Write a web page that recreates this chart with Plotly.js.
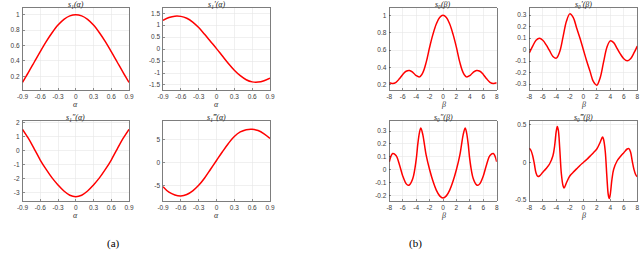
<!DOCTYPE html>
<html>
<head>
<meta charset="utf-8">
<script src="https://cdn.plot.ly/plotly-3.0.1.min.js"></script>
<style>html,body{margin:0;padding:0;background:#fff;}#chart{width:640px;height:261px;}</style>
</head>
<body>
<div id="chart"></div>
<script>
// ---------- data ----------
const alpha = [-0.9,-0.8,-0.7,-0.6,-0.5,-0.4,-0.3,-0.2,-0.1,0,0.1,0.2,0.3,0.4,0.5,0.6,0.7,0.8,0.9];
const s1    = [0.12,0.25,0.385,0.52,0.65,0.765,0.865,0.94,0.985,1.0,0.985,0.94,0.865,0.765,0.65,0.52,0.385,0.25,0.12];
const s1d1  = [1.2,1.32,1.38,1.37,1.29,1.13,0.9,0.62,0.32,0.02,-0.29,-0.6,-0.88,-1.11,-1.28,-1.37,-1.38,-1.32,-1.21];
const s1d2  = [1.5,0.85,0.1,-0.68,-1.35,-1.95,-2.45,-2.88,-3.18,-3.28,-3.18,-2.88,-2.45,-1.95,-1.35,-0.68,0.1,0.85,1.5];
const s1d3  = [-5.3,-6.5,-7.1,-7.3,-7.0,-6.2,-5.0,-3.4,-1.5,0.4,2.3,4.1,5.6,6.6,7.1,7.2,6.9,6.2,5.2];

const beta  = [-8,-7.5,-7,-6.5,-6,-5.5,-5,-4.5,-4,-3.5,-3,-2.5,-2,-1.5,-1,-0.5,0,0.5,1,1.5,2,2.5,3,3.5,4,4.5,5,5.5,6,6.5,7,7.5,8];
const s0    = [0.222,0.214,0.228,0.268,0.318,0.355,0.364,0.343,0.305,0.29,0.34,0.46,0.63,0.78,0.9,0.975,1.0,0.975,0.9,0.78,0.63,0.46,0.34,0.29,0.305,0.343,0.364,0.355,0.318,0.268,0.228,0.214,0.222];
const s0d1  = [-0.03,0.03,0.08,0.098,0.08,0.04,-0.01,-0.06,-0.075,-0.02,0.11,0.245,0.31,0.28,0.19,0.1,0.0,-0.1,-0.19,-0.28,-0.31,-0.245,-0.11,0.02,0.075,0.06,0.01,-0.04,-0.08,-0.098,-0.08,-0.03,0.03];

const beta7 = [-8,-7.5,-7,-6.5,-6,-5.5,-5.2,-5,-4.5,-4,-3.75,-3.5,-3.3,-3,-2.75,-2.5,-2,-1.5,-1,-0.5,0,0.5,1,1.5,2,2.5,2.75,3,3.3,3.5,3.75,4,4.5,5,5.2,5.5,6,6.5,7,7.5,8];
const s0d2  = [0.06,0.125,0.11,0.04,-0.05,-0.11,-0.123,-0.12,-0.07,0.075,0.2,0.29,0.323,0.27,0.19,0.11,0.0,-0.09,-0.16,-0.205,-0.222,-0.205,-0.16,-0.09,0.0,0.11,0.19,0.27,0.323,0.29,0.2,0.075,-0.07,-0.12,-0.123,-0.11,-0.05,0.04,0.11,0.125,0.06];

const beta8 = [-8,-7.75,-7.5,-7.25,-7,-6.75,-6.5,-6,-5.5,-5,-4.5,-4.25,-4,-3.85,-3.7,-3.5,-3.25,-3,-2.85,-2.5,-2,-1.5,-1,-0.5,0,0.5,1,1.5,2,2.5,2.85,3,3.25,3.5,3.7,3.85,4,4.25,4.5,5,5.5,6,6.5,6.75,7,7.25,7.5,7.75,8];
const s0d3  = [0.19,0.16,0.09,-0.02,-0.14,-0.185,-0.18,-0.13,-0.08,-0.02,0.09,0.22,0.42,0.48,0.43,0.2,-0.15,-0.31,-0.34,-0.27,-0.18,-0.13,-0.085,-0.04,0.0,0.04,0.085,0.13,0.18,0.27,0.34,0.31,0.15,-0.2,-0.43,-0.48,-0.42,-0.22,-0.09,0.02,0.08,0.13,0.18,0.185,0.14,0.02,-0.09,-0.16,-0.19];

const alphaTicks = [-0.9,-0.6,-0.3,0,0.3,0.6,0.9];
const alphaTickText = ["-0.9","-0.6","-0.3","0","0.3","0.6","0.9"];
const betaTicks = [-8,-6,-4,-2,0,2,4,6,8];
const betaTickText = ["-8","-6","-4","-2","0","2","4","6","8"];
const yTicks1 = [0.2,0.4,0.6,0.8,1];           const yText1 = ["0.2","0.4","0.6","0.8","1"];
const yTicks2 = [-1.5,-1,-0.5,0,0.5,1,1.5];    const yText2 = ["-1.5","-1","-0.5","0","0.5","1","1.5"];
const yTicks3 = [-3,-2,-1,0,1,2];              const yText3 = ["-3","-2","-1","0","1","2"];
const yTicks4 = [-5,0,5];                      const yText4 = ["-5","0","5"];
const yTicks5 = [0.2,0.4,0.6,0.8,1];           const yText5 = ["0.2","0.4","0.6","0.8","1"];
const yTicks6 = [-0.3,-0.2,-0.1,0,0.1,0.2,0.3];const yText6 = ["-0.3","-0.2","-0.1","0","0.1","0.2","0.3"];
const yTicks7 = [-0.2,-0.1,0,0.1,0.2,0.3];     const yText7 = ["-0.2","-0.1","0","0.1","0.2","0.3"];
const yTicks8 = [-0.5,0,0.5];                  const yText8 = ["-0.5","0","0.5"];

const titles = ["s₁(α)","s₁′(α)","s₁″(α)","s₁‴(α)","s₀(β)","s₀′(β)","s₀″(β)","s₀‴(β)"];
const xLabels = ["α","α","α","α","β","β","β","β"];
const captions = ["(a)","(b)"];

// ---------- layout geometry (pixels) ----------
const W = 640, H = 261;
const cols = [[22.5,129],[163,270],[389.3,496.7],[529.3,637.3]];
const rows = [[8,90],[121,201]];
const place = [[0,0],[1,0],[0,1],[1,1],[2,0],[3,0],[2,1],[3,1]];
const yRanges = [[0.021,1.087],[-1.71,1.72],[-3.59,2.09],[-8.41,8.98],[0.139,1.084],[-0.352,0.361],[-0.245,0.378],[-0.513,0.553]];
const xs = [alpha,alpha,alpha,alpha,beta,beta,beta7,beta8];
const ys = [s1,s1d1,s1d2,s1d3,s0,s0d1,s0d2,s0d3];
const yt = [[yTicks1,yText1],[yTicks2,yText2],[yTicks3,yText3],[yTicks4,yText4],[yTicks5,yText5],[yTicks6,yText6],[yTicks7,yText7],[yTicks8,yText8]];

const tickFont = {family:"Liberation Sans, Arial, sans-serif", size:6.5, color:"#404040"};
const serifItalic = (sz,col)=>({family:"Liberation Serif, Times New Roman, serif", size:sz, color:col, style:"italic"});
const traces = [];
const layout = {
  width: W, height: H, margin:{l:0,r:0,t:0,b:0},
  paper_bgcolor:"#fff", plot_bgcolor:"#fff", showlegend:false,
  annotations: []
};
for (let i=0;i<8;i++){
  const n = i===0 ? "" : String(i+1);
  const [c,r] = place[i];
  const xd = [cols[c][0]/W, cols[c][1]/W];
  const yd = [1-rows[r][1]/H, 1-rows[r][0]/H];
  const isAlpha = i<4;
  traces.push({x: xs[i], y: ys[i], type:"scatter", mode:"lines",
    line:{color:"#ff0000", width:1.5, shape:"spline", smoothing:1},
    xaxis:"x"+n, yaxis:"y"+n, hoverinfo:"skip"});
  const axCommon = {showline:true, mirror:true, linecolor:"#262626", linewidth:0.6,
    showgrid:true, gridcolor:"#e6e6e6", gridwidth:0.6, zeroline:false,
    ticks:"inside", ticklen:2, tickwidth:0.5, tickcolor:"#262626", tickfont:tickFont, fixedrange:true};
  layout["xaxis"+n] = Object.assign({}, axCommon, {
    domain: xd, anchor:"y"+n,
    range: isAlpha ? [-0.9,0.9] : [-8,8],
    tickmode:"array", tickvals: isAlpha ? alphaTicks : betaTicks,
    ticktext: isAlpha ? alphaTickText : betaTickText, ticklabelstandoff: 1
  });
  layout["yaxis"+n] = Object.assign({}, axCommon, {
    domain: yd, anchor:"x"+n, range: yRanges[i],
    tickmode:"array", tickvals: yt[i][0], ticktext: yt[i][1], ticklabelstandoff: 1
  });
  const cx = (xd[0]+xd[1])/2;
  layout.annotations.push({text: titles[i], xref:"paper", yref:"paper", x: cx, y: 1-(rows[r][0]-4)/H,
    xanchor:"center", yanchor:"middle", showarrow:false, font: serifItalic(8,"#222")});
  layout.annotations.push({text: xLabels[i], xref:"paper", yref:"paper", x: cx, y: 1-(rows[r][1]+14)/H,
    xanchor:"center", yanchor:"middle", showarrow:false, font: serifItalic(8,"#333")});
}
layout.annotations.push({text:captions[0], xref:"paper", yref:"paper", x:113/W, y:1-243/H, xanchor:"center", yanchor:"middle", showarrow:false,
  font:{family:"Liberation Serif, Times New Roman, serif", size:11, color:"#000"}});
layout.annotations.push({text:captions[1], xref:"paper", yref:"paper", x:415/W, y:1-243/H, xanchor:"center", yanchor:"middle", showarrow:false,
  font:{family:"Liberation Serif, Times New Roman, serif", size:11, color:"#000"}});

Plotly.newPlot("chart", traces, layout, {staticPlot:true, displayModeBar:false});
</script>
</body>
</html>
